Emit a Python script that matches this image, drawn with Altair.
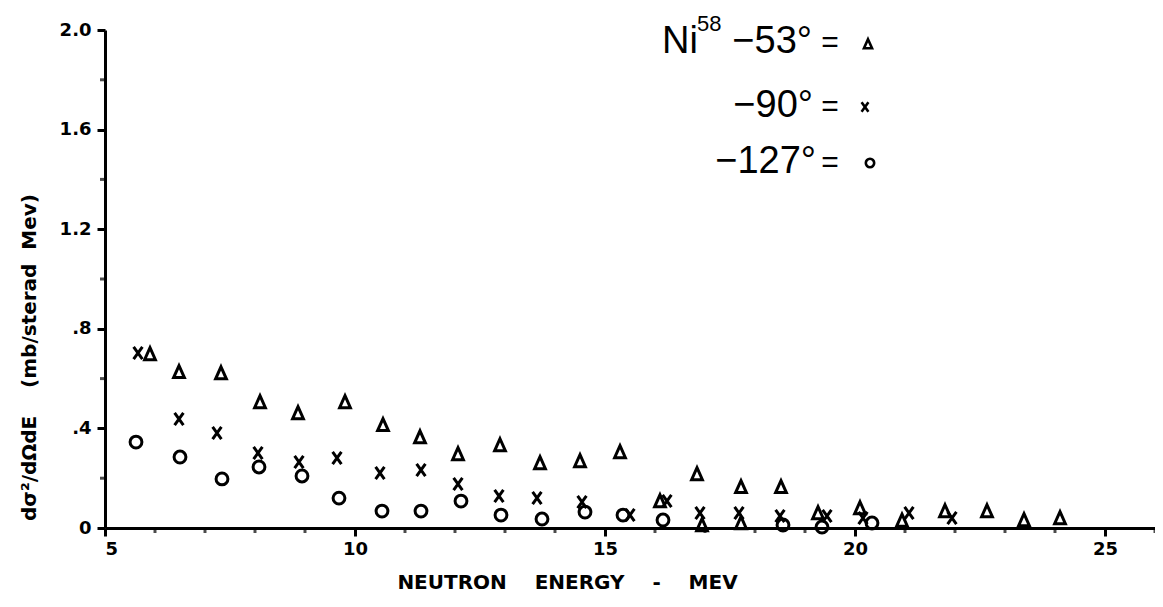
import altair as alt
import pandas as pd

# ---- data (neutron energy in MeV, d2sigma/dOmega dE in mb/sterad MeV)
tri_E = [5.90, 6.48, 7.32, 8.10, 8.86, 9.80, 10.56, 11.30, 12.06, 12.90, 13.70, 14.50, 15.30,
         16.10, 16.84, 16.94, 17.72, 17.72, 18.52, 19.26, 20.10, 20.94, 21.80, 22.64, 23.38, 24.10]
tri_V = [0.699, 0.627, 0.622, 0.506, 0.462, 0.506, 0.414, 0.365, 0.297, 0.333, 0.261, 0.269, 0.305,
         0.108, 0.217, 0.012, 0.165, 0.020, 0.165, 0.060, 0.080, 0.030, 0.068, 0.068, 0.032, 0.040]

x_E = [5.66, 6.48, 7.24, 8.06, 8.88, 9.64, 10.50, 11.32, 12.06, 12.88, 13.64, 14.54, 15.50,
       16.24, 16.90, 17.68, 18.50, 19.44, 20.16, 21.08, 21.94]
x_V = [0.703, 0.438, 0.382, 0.301, 0.265, 0.281, 0.221, 0.233, 0.177, 0.129, 0.120, 0.104, 0.052,
       0.108, 0.060, 0.060, 0.048, 0.048, 0.040, 0.060, 0.040]

o_E = [5.62, 6.50, 7.34, 8.08, 8.94, 9.68, 10.54, 11.32, 12.12, 12.92, 13.74, 14.60, 15.36,
       16.16, 18.56, 19.34, 20.34]
o_V = [0.345, 0.285, 0.197, 0.245, 0.209, 0.120, 0.068, 0.068, 0.108, 0.052, 0.036, 0.064, 0.052,
       0.032, 0.012, 0.004, 0.020]

series_names = ["53°", "90°", "127°"]
y_ticks = [0, 0.4, 0.8, 1.2, 1.6, 2.0]
y_minor = [0.2, 0.6, 1.0, 1.4, 1.8]
x_ticks = [5, 10, 15, 20, 25]
x_minor = [6, 7, 8, 9, 11, 12, 13, 14, 16, 17, 18, 19, 21, 22, 23, 24, 26]

rows = []
for name, es, vs in zip(series_names, [tri_E, x_E, o_E], [tri_V, x_V, o_V]):
    for e, v in zip(es, vs):
        rows.append({"E": e, "V": v, "angle": name})
df = pd.DataFrame(rows)

TRI = "M0,-1L0.85,0.9L-0.85,0.9Z"
XS = "M-0.72,-1L0.72,1M0.72,-1L-0.72,1"

W, H = 1050, 498
xscale = alt.Scale(domain=[5, 26], nice=False, zero=False)
yscale = alt.Scale(domain=[0, 2.0], nice=False)

LBL_FONT = "DejaVu Sans"
LEG_FONT = "Liberation Sans"

xaxis = alt.Axis(values=x_ticks, format="d", tickSize=8, tickWidth=3, domainWidth=3,
                 domainColor="black", tickColor="black", labelColor="black",
                 labelFont=LBL_FONT, labelFontWeight="bold", labelFontSize=18, labelPadding=4,
                 grid=False,
                 title="NEUTRON\u00a0\u00a0\u00a0\u00a0ENERGY\u00a0\u00a0\u00a0\u00a0-\u00a0\u00a0\u00a0\u00a0MEV",
                 titleFont=LBL_FONT, titleFontWeight="bold", titleFontSize=20, titleColor="black",
                 titleX=462, titleY=54, titleAlign="center", titleBaseline="middle")

yaxis = alt.Axis(values=y_ticks,
                 labelExpr="datum.value == 0 ? '0' : (datum.value < 1 ? replace(format(datum.value, '.1f'), '0.', '.') : format(datum.value, '.1f'))",
                 tickSize=8, tickWidth=3, domainWidth=3, domainColor="black", tickColor="black",
                 labelColor="black", labelFont=LBL_FONT, labelFontWeight="bold", labelFontSize=18,
                 labelPadding=6, grid=False,
                 title="d\u03c3\u00b2/d\u03a9dE\u00a0\u00a0\u00a0\u00a0(mb/sterad\u00a0\u00a0Mev)",
                 titleFont=LBL_FONT, titleFontWeight="bold", titleFontSize=20, titleColor="black",
                 titleAngle=270, titleX=-76, titleY=327, titleAlign="center", titleBaseline="middle")

points = alt.Chart(df).mark_point(filled=False, color="black", strokeWidth=3, opacity=1).encode(
    x=alt.X("E:Q", scale=xscale, axis=xaxis),
    y=alt.Y("V:Q", scale=yscale, axis=yaxis),
    shape=alt.Shape("angle:N", scale=alt.Scale(domain=series_names, range=[TRI, XS, "circle"]), legend=None),
    size=alt.Size("angle:N", scale=alt.Scale(domain=series_names, range=[160, 140, 90]), legend=None),
)

ymin_df = pd.DataFrame({"v": y_minor})
y_minor_ticks = alt.Chart(ymin_df).mark_tick(orient="horizontal", color="black", thickness=3, size=6).encode(
    y=alt.Y("v:Q", scale=yscale), x=alt.value(-2))

xmin_df = pd.DataFrame({"e": x_minor})
x_minor_ticks = alt.Chart(xmin_df).mark_tick(orient="vertical", color="black", thickness=3, size=6).encode(
    x=alt.X("e:Q", scale=xscale), y=alt.value(H + 2))

one = pd.DataFrame({"k": [0]})


def txt(s, x, y, size, align="left", font=LEG_FONT, weight="normal"):
    return alt.Chart(one).mark_text(text=s, align=align, baseline="alphabetic", font=font,
                                    fontSize=size, fontWeight=weight, color="black").encode(
        x=alt.value(x), y=alt.value(y))


def sym(shape, x, y, size):
    return alt.Chart(one).mark_point(shape=shape, filled=False, color="black", strokeWidth=2.6,
                                     size=size, opacity=1).encode(x=alt.value(x), y=alt.value(y))


legend_layers = [
    txt("Ni", 557, 23, 38),
    txt("58", 592, 1, 22),
    txt("\u221253°", 707, 23, 38, align="right"),
    txt("=", 725, 22, 30, align="center"),
    sym(TRI, 763, 14, 90),
    txt("\u221290°", 708, 87, 38, align="right"),
    txt("=", 725, 86, 30, align="center"),
    sym(XS, 760, 77, 90),
    txt("\u2212127°", 711, 143, 38, align="right"),
    txt("=", 725, 142, 30, align="center"),
    sym("circle", 765, 133, 70),
]

chart = alt.layer(points, y_minor_ticks, x_minor_ticks, *legend_layers).properties(
    width=W, height=H,
    autosize=alt.AutoSizeParams(type="none"),
    padding={"left": 97, "top": 22, "right": 0, "bottom": 70},
    background="white",
).configure_view(stroke=None)

chart.save("out.html", embed_options={"renderer": "svg", "actions": False})
